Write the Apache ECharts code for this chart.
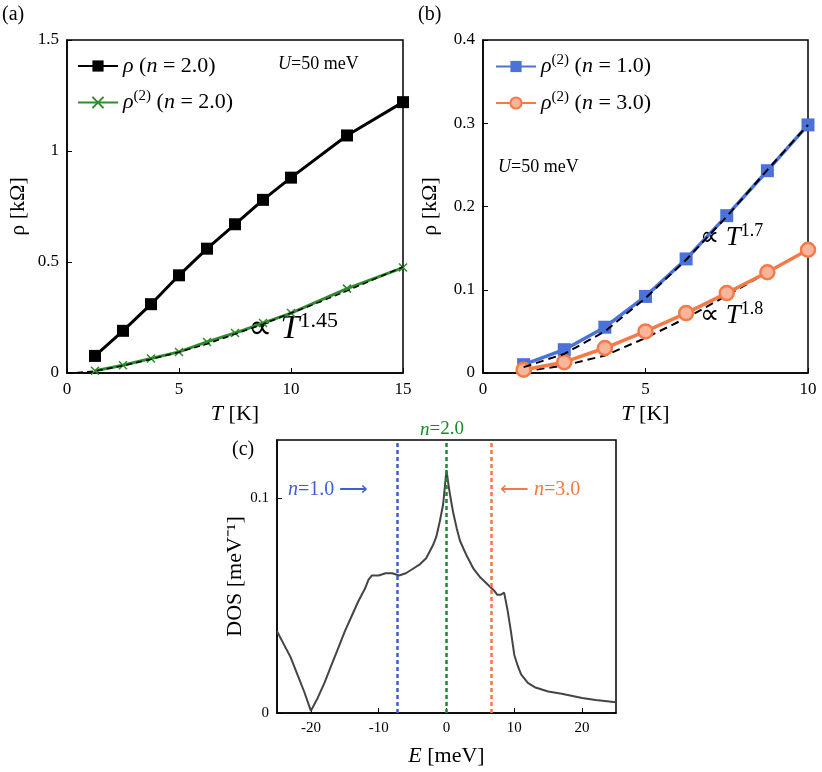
<!DOCTYPE html>
<html><head><meta charset="utf-8">
<script src="https://cdn.jsdelivr.net/npm/echarts@6/dist/echarts.min.js"></script>
<style>html,body{margin:0;background:#fff}#c{width:822px;height:772px}</style>
</head><body><div id="c"></div>
<script>
// Panel (a)
const tA = [1.25, 2.5, 3.75, 5, 6.25, 7.5, 8.75, 10, 12.5, 15];
const rhoA = [0.077, 0.19, 0.31, 0.44, 0.56, 0.67, 0.78, 0.88, 1.07, 1.22];
const rho2A = [0.01, 0.035, 0.065, 0.095, 0.14, 0.18, 0.225, 0.27, 0.38, 0.475];
const fitAT = [0, 0.5, 1.25, 2.5, 3.75, 5, 6.25, 7.5, 8.75, 10, 11.25, 12.5, 13.75, 15];
const fitAV = [0, 0.002, 0.009, 0.033, 0.062, 0.094, 0.131, 0.175, 0.22, 0.27, 0.318, 0.37, 0.424, 0.478];
// Panel (b)
const tB = [1.25, 2.5, 3.75, 5, 6.25, 7.5, 8.75, 10];
const rhoB1 = [0.01, 0.028, 0.055, 0.092, 0.137, 0.189, 0.243, 0.298];
const rhoB3 = [0.004, 0.013, 0.03, 0.05, 0.072, 0.096, 0.121, 0.148];
const fitB1 = [0.007, 0.023, 0.05, 0.09, 0.136, 0.188, 0.244, 0.298];
const fitB3 = [0.002, 0.009, 0.021, 0.042, 0.066, 0.093, 0.121, 0.148];
// Panel (c)
const eC = [-25,-23,-22,-21,-20,-19,-18,-17,-16,-15,-14,-13,-12,-11.5,-11,-10,-9,-8,-7,-6,-5,-4,-3,-2,-1.5,-1,-0.5,0,0.3,0.6,1,1.5,2,3,4,5,6,7,7.5,8,8.5,9,9.5,10,10.5,11,12,13,15,17,20,22,25];
const dosC = [0.038,0.026,0.018,0.01,0.001,0.007,0.014,0.022,0.03,0.038,0.045,0.052,0.058,0.062,0.064,0.064,0.065,0.065,0.064,0.065,0.067,0.069,0.072,0.078,0.082,0.089,0.097,0.113,0.106,0.1,0.093,0.086,0.08,0.073,0.067,0.063,0.06,0.057,0.055,0.055,0.056,0.048,0.038,0.027,0.022,0.018,0.014,0.012,0.01,0.009,0.007,0.006,0.005];
const vLines = [[-7.3,'#3d5fd6'],[0,'#1a8a2a'],[6.6,'#f07a40']];

const F = 'Liberation Serif';
const ax = (extra) => Object.assign({
  axisLine:{show:true,onZero:false,lineStyle:{color:'#000',width:1.5}},
  axisTick:{show:true,inside:true,length:5,lineStyle:{color:'#000'}},
  splitLine:{show:false},
  axisLabel:{color:'#000',fontFamily:F,fontSize:17},
  nameTextStyle:{color:'#000',fontFamily:F,fontSize:22}
}, extra);
const pair = (xs, ys) => xs.map((x,i)=>[x,ys[i]]);
const rich = {sup:{fontSize:15,verticalAlign:'top',padding:[0,0,12,0],fontFamily:F,color:'#000'},
             it:{fontStyle:'italic',fontFamily:F,fontSize:22,color:'#000'},
             r:{fontFamily:F,fontSize:22,color:'#000'}};
const xname = {color:'#000',fontFamily:F,fontSize:22,rich:{i:{fontStyle:'italic',fontFamily:F,fontSize:22,color:'#000'}}};

const chart = echarts.init(document.getElementById('c'));
chart.setOption({
  animation:false,
  grid:[
    {left:67,top:40,width:336,height:333,show:true,borderColor:'#000',borderWidth:1.5},
    {left:483,top:40,width:325,height:333,show:true,borderColor:'#000',borderWidth:1.5},
    {left:277,top:440,width:339,height:273,show:true,borderColor:'#000',borderWidth:1.5}
  ],
  xAxis:[
    ax({gridIndex:0,type:'value',min:0,max:15,interval:5,name:'{i|T} [K]',nameLocation:'middle',nameGap:30,nameTextStyle:xname}),
    ax({gridIndex:1,type:'value',min:0,max:10,interval:5,name:'{i|T} [K]',nameLocation:'middle',nameGap:30,nameTextStyle:xname}),
    ax({gridIndex:2,type:'value',min:-25,max:25,name:'{i|E} [meV]',nameLocation:'middle',nameGap:32,nameTextStyle:xname,
        axisLabel:{color:'#000',fontFamily:F,fontSize:15,customValues:[-20,-10,0,10,20]},
        axisTick:{show:true,inside:true,length:5,lineStyle:{color:'#000'},customValues:[-20,-10,0,10,20]}})
  ],
  yAxis:[
    ax({gridIndex:0,type:'value',min:0,max:1.5,interval:0.5,name:'ρ [kΩ]',nameLocation:'middle',nameGap:38,
        axisLabel:{color:'#000',fontFamily:F,fontSize:17,formatter:v=>String(v)}}),
    ax({gridIndex:1,type:'value',min:0,max:0.4,interval:0.1,name:'ρ [kΩ]',nameLocation:'middle',nameGap:42}),
    ax({gridIndex:2,type:'value',min:0,max:0.127,name:'DOS [meV⁻¹]',nameLocation:'middle',nameGap:30,
        axisLabel:{color:'#000',fontFamily:F,fontSize:15,customValues:[0,0.1]},
        axisTick:{show:true,inside:true,length:5,lineStyle:{color:'#000'},customValues:[0,0.1]}})
  ],
  legend:[
    {left:72,top:50,orient:'vertical',itemGap:12,itemWidth:40,itemHeight:14,
     data:['rhoA','rho2A'],
     formatter:n=>n==='rhoA'?'{it|ρ} {r|(}{it|n}{r| = 2.0)}':'{it|ρ}{sup|(2)} {r|(}{it|n}{r| = 2.0)}',
     textStyle:{fontFamily:F,fontSize:22,color:'#000',rich:rich}},
    {left:490,top:48,orient:'vertical',itemGap:12,itemWidth:40,itemHeight:14,
     data:['rhoB1','rhoB3'],
     formatter:n=>n==='rhoB1'?'{it|ρ}{sup|(2)} {r|(}{it|n}{r| = 1.0)}':'{it|ρ}{sup|(2)} {r|(}{it|n}{r| = 3.0)}',
     textStyle:{fontFamily:F,fontSize:22,color:'#000',rich:rich}}
  ],
  series:[
    {name:'fitA',type:'line',xAxisIndex:0,yAxisIndex:0,data:pair(fitAT,fitAV),showSymbol:false,
     lineStyle:{color:'#000',width:1.5,type:[6,4]},z:5},
    {name:'rhoA',type:'line',xAxisIndex:0,yAxisIndex:0,data:pair(tA,rhoA),symbol:'rect',symbolSize:12,
     color:'#000',lineStyle:{color:'#000',width:3}},
    {name:'rho2A',type:'line',xAxisIndex:0,yAxisIndex:0,data:pair(tA,rho2A),
     symbol:'path://M0,0L10,10M10,0L0,10',symbolSize:8,color:'#2e8b2e',
     itemStyle:{color:'#2e8b2e',borderColor:'#2e8b2e',borderWidth:1.5},lineStyle:{color:'#2e8b2e',width:3}},
    {name:'rhoB1',type:'line',xAxisIndex:1,yAxisIndex:1,data:pair(tB,rhoB1),symbol:'rect',symbolSize:13,
     color:'#4a72d8',lineStyle:{color:'#4a72d8',width:3.5}},
    {name:'rhoB3',type:'line',xAxisIndex:1,yAxisIndex:1,data:pair(tB,rhoB3),symbol:'circle',symbolSize:14,
     color:'#f58a5a',itemStyle:{color:'#f9b59a',borderColor:'#f57a48',borderWidth:2.5},lineStyle:{color:'#f57a48',width:3.5}},
    {name:'fitB1',type:'line',xAxisIndex:1,yAxisIndex:1,data:pair(tB,fitB1),showSymbol:false,
     lineStyle:{color:'#000',width:2,type:[8,5]},z:5},
    {name:'fitB3',type:'line',xAxisIndex:1,yAxisIndex:1,data:pair(tB,fitB3),showSymbol:false,
     lineStyle:{color:'#000',width:2,type:[8,5]},z:1},
    {name:'dos',type:'line',xAxisIndex:2,yAxisIndex:2,data:pair(eC,dosC),showSymbol:false,
     lineStyle:{color:'#444',width:2},
     markLine:{symbol:'none',silent:true,label:{show:false},
       data:vLines.map(v=>({xAxis:v[0],lineStyle:{color:v[1],type:[4,3],width:2.5}}))}}
  ],
  graphic:[
    {type:'text',left:2,top:5,style:{text:'(a)',font:'20px '+F,fill:'#000'}},
    {type:'text',left:418,top:5,style:{text:'(b)',font:'20px '+F,fill:'#000'}},
    {type:'text',left:232,top:440,style:{text:'(c)',font:'20px '+F,fill:'#000'}},
    {type:'text',left:278,top:55,style:{text:'{i|U}=50 meV',font:'18px '+F,fill:'#000',rich:{i:{fontStyle:'italic',fontFamily:F,fontSize:18}}}},
    {type:'text',left:498,top:158,style:{text:'{i|U}=50 meV',font:'18px '+F,fill:'#000',rich:{i:{fontStyle:'italic',fontFamily:F,fontSize:18}}}},
    {type:'text',left:248,top:310,style:{text:'∝ {i|T}{s|1.45}',font:'34px '+F,fill:'#000',
      rich:{i:{fontStyle:'italic',fontFamily:F,fontSize:34},s:{fontSize:22,fontFamily:F,verticalAlign:'top',padding:[0,0,16,0]}}}},
    {type:'text',left:700,top:222,style:{text:'∝ {i|T}{s|1.7}',font:'27px '+F,fill:'#000',
      rich:{i:{fontStyle:'italic',fontFamily:F,fontSize:27},s:{fontSize:18,fontFamily:F,verticalAlign:'top',padding:[0,0,13,0]}}}},
    {type:'text',left:700,top:300,style:{text:'∝ {i|T}{s|1.8}',font:'27px '+F,fill:'#000',
      rich:{i:{fontStyle:'italic',fontFamily:F,fontSize:27},s:{fontSize:18,fontFamily:F,verticalAlign:'top',padding:[0,0,13,0]}}}},
    {type:'text',left:420,top:420,style:{text:'{i|n}=2.0',font:'19px '+F,fill:'#1a8a2a',rich:{i:{fontStyle:'italic',fontFamily:F,fontSize:19,fill:'#1a8a2a'}}}},
    {type:'text',left:288,top:480,style:{text:'{i|n}=1.0 ⟶',font:'20px '+F,fill:'#3d5fd6',rich:{i:{fontStyle:'italic',fontFamily:F,fontSize:20,fill:'#3d5fd6'}}}},
    {type:'text',left:500,top:480,style:{text:'⟵ {i|n}=3.0',font:'20px '+F,fill:'#f07a40',rich:{i:{fontStyle:'italic',fontFamily:F,fontSize:20,fill:'#f07a40'}}}}
  ]
});
</script></body></html>
